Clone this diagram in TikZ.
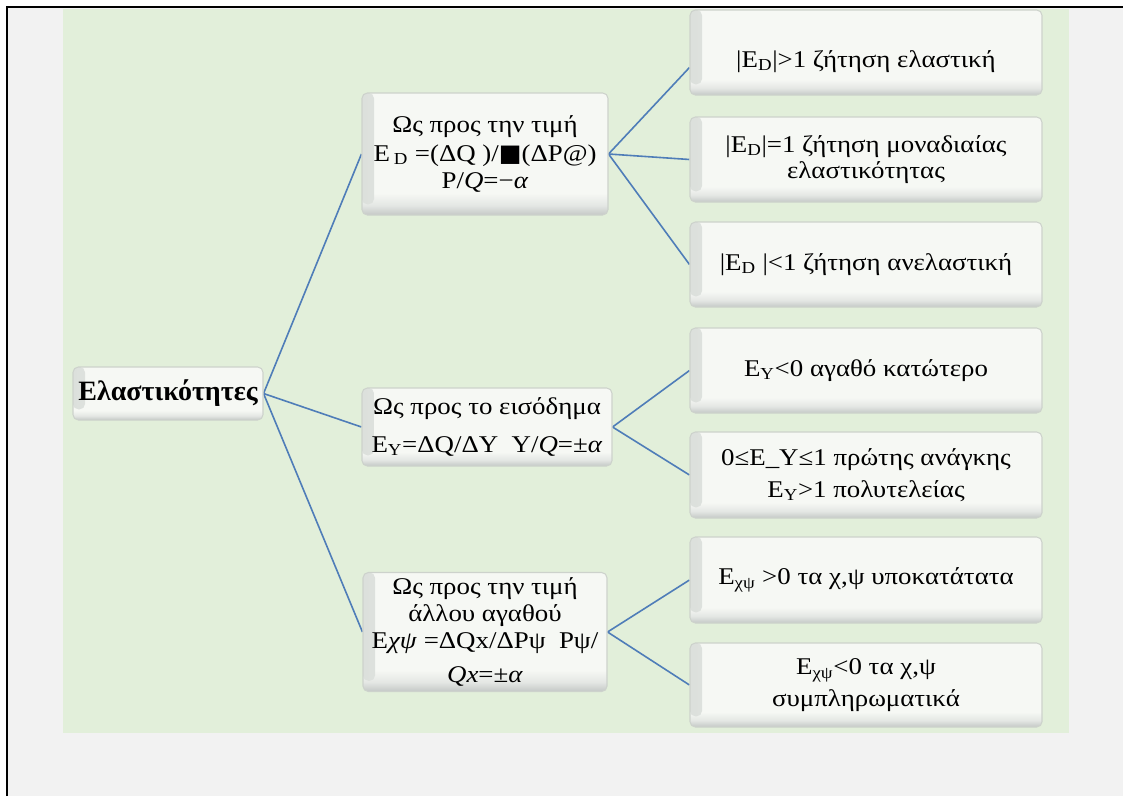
\documentclass[tikz,border=0pt]{standalone}
\usepackage{fontspec}
\setmainfont{Liberation Serif}[FakeStretch=1.12]
\newfontfamily\rootfont{Liberation Serif}
\newfontfamily\dejavu{DejaVu Sans}
\definecolor{pagegrey}{HTML}{F2F2F2}
\definecolor{panelgreen}{HTML}{E2EFDA}
\definecolor{bvface}{HTML}{F6F8F4}
\definecolor{bvmid}{HTML}{E4E7E4}
\definecolor{bvbot}{HTML}{C4C8C6}
\definecolor{bvleft}{HTML}{DCE0DC}
\definecolor{bvedge}{HTML}{CDD2CC}
\definecolor{linkblue}{HTML}{4F7DB8}
\pgfdeclareverticalshading{bevel}{100bp}{color(0bp)=(bvbot); color(25bp)=(bvbot); color(29bp)=(bvmid); color(34bp)=(bvface); color(100bp)=(bvface)}
\pgfdeclarehorizontalshading{leftbevel}{100bp}{color(0bp)=(bvleft); color(25bp)=(bvleft); color(75bp)=(bvface); color(100bp)=(bvface)}
\pgfdeclarelayer{bg}
\pgfdeclarelayer{lines}
\pgfsetlayers{bg,lines,main}
\tikzset{
  bx/.style={shade, shading=bevel, draw=bvedge, line width=0.8pt, rounded corners=4pt,
    align=center, inner sep=1pt, font=\fontsize{18}{19.5}\selectfont,
    path picture={\shade[shading=leftbevel, draw=none]
      ([yshift=8pt]path picture bounding box.south west) rectangle ([xshift=9pt]path picture bounding box.north west);}},
  rbox/.style={bx, minimum width=264pt},
  conn/.style={draw=linkblue, line width=1.2pt}
}
\begin{document}
\begin{tikzpicture}[x=0.75pt,y=-0.75pt]
\useasboundingbox (0,0) rectangle (1123,796);
\begin{pgfonlayer}{bg}
  \fill[white] (0,0) rectangle (1123,796);
  \fill[pagegrey] (7,7) rectangle (1123,796);
  \draw[black, line width=2pt] (7,796) -- (7,7) -- (1123,7);
  \fill[panelgreen] (63,9) rectangle (1069,733);
\end{pgfonlayer}

\node[bx, minimum width=142.5pt, minimum height=39.75pt, font=\rootfont\fontsize{21}{25}\selectfont\bfseries] (root) at (168,393.5) {Ελαστικότητες};

\node[bx, minimum width=184.5pt, minimum height=91.5pt, font=\fontsize{18}{21.5}\selectfont] (m1) at (485,154)
  {Ως προς την τιμή\\E\,\textsubscript{D} =(ΔQ )/{\dejavu ■}(ΔP@)\\[-1.5pt]P/\textit{Q}=−\textit{α}};
\node[bx, minimum width=187.5pt, minimum height=58.5pt] (m2) at (487,427)
  {Ως προς το εισόδημα\\[9pt]E\textsubscript{Υ}=ΔQ/ΔY\ \ Y/\textit{Q}=±\textit{α}};
\node[bx, minimum width=183pt, minimum height=89.25pt, font=\fontsize{18}{20.5}\selectfont] (m3) at (485,632)
  {Ως προς την τιμή\\άλλου αγαθού\\E\textit{χψ} =ΔQx/ΔPψ\ \ Pψ/\\[5pt]\textit{Qx}=±\textit{α}};

\node[rbox, minimum height=63.75pt] (r1) at (866,52.5) {\raisebox{-11pt}[0pt][0pt]{|E\textsubscript{D}|>1 ζήτηση ελαστική}};
\node[rbox, minimum height=63.75pt] (r2) at (866,159.5) {|E\textsubscript{D}|=1 ζήτηση μοναδιαίας\\ελαστικότητας};
\node[rbox, minimum height=63.75pt] (r3) at (866,264.5) {|E\textsubscript{D} |<1 ζήτηση ανελαστική};
\node[rbox, minimum height=63.75pt] (r4) at (866,370.5) {E\textsubscript{Υ}<0 αγαθό κατώτερο};
\node[rbox, minimum height=64.5pt] (r5) at (866,475) {0≤E\_Υ≤1 πρώτης ανάγκης\\[4pt]E\textsubscript{Υ}>1 πολυτελείας};
\node[rbox, minimum height=64.5pt] (r6) at (866,580) {E\textsubscript{χψ} >0 τα χ,ψ υποκατάτατα};
\node[rbox, minimum height=63pt] (r7) at (866,685) {E\textsubscript{χψ}<0 τα χ,ψ\\[4pt]συμπληρωματικά};
\coordinate (r1in) at ([yshift=-11.25pt]r1.west);

\begin{pgfonlayer}{lines}
  \draw[conn] (root.east) -- (m1.west);
  \draw[conn] (root.east) -- (m2.west);
  \draw[conn] (root.east) -- (m3.west);
  \draw[conn] (m1.east) -- (r1in);
  \draw[conn] (m1.east) -- (r2.west);
  \draw[conn] (m1.east) -- (r3.west);
  \draw[conn] (m2.east) -- (r4.west);
  \draw[conn] (m2.east) -- (r5.west);
  \draw[conn] (m3.east) -- (r6.west);
  \draw[conn] (m3.east) -- (r7.west);
\end{pgfonlayer}
\end{tikzpicture}
\end{document}
